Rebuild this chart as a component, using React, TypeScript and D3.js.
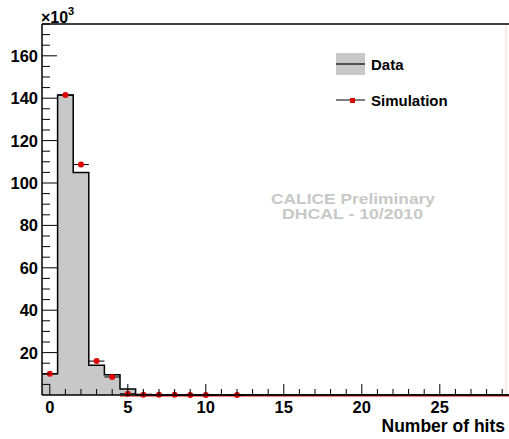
import React from "react";
import * as d3 from "d3";

const bins = [0,1,2,3,4,5,6,7,8,9,10,11,12,13,14,15,16,17,18,19,20,21,22,23,24,25,26,27,28,29];
const dataValues = [10.0,141.5,105.0,14.0,9.5,2.8,0.2,0.1,0.05,0.03,0.02,0,0,0,0,0,0,0,0,0,0,0,0,0,0,0,0,0,0,0];
const simBins = [0,1,2,3,4,5,6,7,8,9,10,12];
const simValues = [10.0,141.5,108.7,16.0,8.5,0.6,0.15,0.1,0.08,0.05,0.03,0.02];
const xMajorTicks = [0,5,10,15,20,25];
const yMajorTicks = [20,40,60,80,100,120,140,160];

const W = 509, H = 439;
const FONT = "'Liberation Sans', Arial, Helvetica, sans-serif";

export default function App() {
  const x = d3.scaleLinear().domain([-0.5, 29.5]).range([42, 510]);
  const y = d3.scaleLinear().domain([0, 175]).range([395, 24]);

  const pts: [number, number][] = [];
  bins.forEach((b, i) => {
    pts.push([b - 0.5, dataValues[i]]);
    pts.push([b + 0.5, dataValues[i]]);
  });
  const line = d3.line<[number, number]>().x(d => x(d[0])).y(d => y(d[1]));
  const area = d3.area<[number, number]>().x(d => x(d[0])).y0(y(0)).y1(d => y(d[1]));

  const xMinor = d3.range(0, 30).filter(v => v % 5 !== 0);
  const yMinor = d3.range(5, 176, 5).filter(v => v % 20 !== 0);

  return (
    <svg width={W} height={H} style={{ position: "absolute", left: 0, top: 0, background: "#fff" }}>
      <rect x={0} y={0} width={W} height={H} fill="#fff" />
      {/* histogram */}
      <path d={area(pts) || ""} fill="#c8c8c8" />
      <path d={line(pts) || ""} fill="none" stroke="#000" strokeWidth={1.5} />
      {/* simulation zero line */}
      <line x1={x(4.5)} x2={x(29.5)} y1={y(0) + 1} y2={y(0) + 1} stroke="#e00000" strokeWidth={1.2} />
      {/* simulation points */}
      {simBins.map((b, i) => (
        <g key={b}>
          <line x1={x(b - 0.5)} x2={x(b + 0.5)} y1={y(simValues[i])} y2={y(simValues[i])} stroke="#000" strokeWidth={1} />
          <circle cx={x(b)} cy={y(simValues[i])} r={3} fill="#e00000" />
        </g>
      ))}
      {/* frame */}
      <line x1={42} x2={510} y1={24} y2={24} stroke="#000" strokeWidth={1.5} />
      <line x1={42} x2={42} y1={24} y2={395} stroke="#000" strokeWidth={1.5} />
      <line x1={42} x2={510} y1={395} y2={395} stroke="#000" strokeWidth={1.5} />
      <line x1={506} x2={506} y1={25} y2={394} stroke="#fbe0e4" strokeWidth={1.5} />
      {/* x ticks */}
      {xMajorTicks.map(v => (
        <g key={"xm" + v}>
          <line x1={x(v)} x2={x(v)} y1={395} y2={384} stroke="#000" strokeWidth={1} />
          <text x={x(v)} y={413} textAnchor="middle" fontFamily={FONT} fontWeight="bold" fontSize={16.5}>{v}</text>
        </g>
      ))}
      {xMinor.map(v => (
        <line key={"xn" + v} x1={x(v)} x2={x(v)} y1={395} y2={389} stroke="#000" strokeWidth={1} />
      ))}
      {/* y ticks */}
      {yMajorTicks.map(v => (
        <g key={"ym" + v}>
          <line x1={42} x2={57} y1={y(v)} y2={y(v)} stroke="#000" strokeWidth={1} />
          <text x={38} y={y(v) + 6} textAnchor="end" fontFamily={FONT} fontWeight="bold" fontSize={16.5}>{v}</text>
        </g>
      ))}
      {yMinor.map(v => (
        <line key={"yn" + v} x1={42} x2={50} y1={y(v)} y2={y(v)} stroke="#000" strokeWidth={1} />
      ))}
      <text x={41} y={23} fontFamily={FONT} fontWeight="bold" fontSize={16}>×10</text>
      <text x={68} y={15} fontFamily={FONT} fontWeight="bold" fontSize={11}>3</text>
      {/* axis title */}
      <text x={505} y={432} textAnchor="end" fontFamily={FONT} fontWeight="bold" fontSize={17.5}>Number of hits</text>
      {/* legend */}
      <rect x={336} y={53} width={29} height={22} fill="#c8c8c8" />
      <line x1={336} x2={365} y1={64} y2={64} stroke="#000" strokeWidth={1.2} />
      <text x={371} y={69.5} fontFamily={FONT} fontWeight="bold" fontSize={15}>Data</text>
      <line x1={336} x2={365} y1={100} y2={100} stroke="#000" strokeWidth={1} />
      <rect x={350} y={98} width={5} height={5} fill="#e00000" />
      <text x={371} y={105.5} fontFamily={FONT} fontWeight="bold" fontSize={15}>Simulation</text>
      {/* watermark */}
      <text x={271} y={203.5} fontFamily={FONT} fontWeight="bold" fontSize={14.5} fill="#c8c8c8" textLength={164} lengthAdjust="spacingAndGlyphs">CALICE Preliminary</text>
      <text x={282} y={219} fontFamily={FONT} fontWeight="bold" fontSize={14.5} fill="#c8c8c8" textLength={141} lengthAdjust="spacingAndGlyphs">DHCAL - 10/2010</text>
    </svg>
  );
}
